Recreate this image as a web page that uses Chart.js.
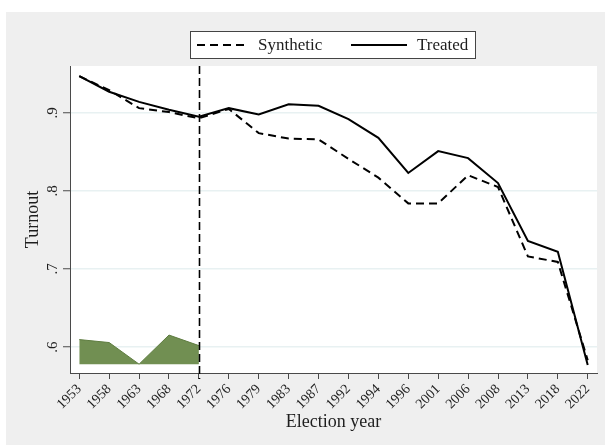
<!DOCTYPE html>
<html>
<head>
<meta charset="utf-8">
<script src="https://cdn.jsdelivr.net/npm/chart.js@4.4.1/dist/chart.umd.min.js"></script>
<style>
  html, body { margin: 0; padding: 0; background: #ffffff; }
  #wrap { width: 605px; height: 446px; }
</style>
</head>
<body>
<div id="wrap"><canvas id="c" width="605" height="446"></canvas></div>
<script>
// Election years shown on the horizontal axis (evenly spaced, one slot each)
const years = ['1953', '1958', '1963', '1968', '1972', '1976', '1979', '1983', '1987',
               '1992', '1994', '1996', '2001', '2006', '2008', '2013', '2018', '2022'];

// Turnout of the treated unit and of its synthetic counterpart
const treated   = [0.947, 0.927, 0.914, 0.904, 0.895, 0.906, 0.898, 0.911, 0.909,
                   0.892, 0.868, 0.823, 0.851, 0.842, 0.810, 0.736, 0.722, 0.577];
const synthetic = [0.947, 0.929, 0.906, 0.901, 0.893, 0.905, 0.874, 0.867, 0.866,
                   0.841, 0.817, 0.784, 0.784, 0.820, 0.805, 0.716, 0.709, 0.583];

// Shaded band in the pre-treatment years
const bandYears = ['1953', '1958', '1963', '1968', '1972'];
const bandTop   = [0.6095, 0.6057, 0.578, 0.6153, 0.6018];
const bandBase  = 0.578;

// Treatment year, marked by the vertical dashed line
const treatYear = '1972';

// Vertical axis ticks
const yTicks = [0.6, 0.7, 0.8, 0.9];
const yTickLabels = ['.6', '.7', '.8', '.9'];

const SERIF = '"Liberation Serif", "Times New Roman", serif';
const TEXT = '#1e1e1e';
const AXIS = '#4a4a4a';

const idx = y => years.indexOf(y);
const toPoints = (labels, vals) => vals.map((v, i) => ({ x: idx(labels[i]), y: v }));

// Page background, plot panel, treatment line, y labels and framed legend
const decor = {
  id: 'decor',
  beforeDraw(chart) {
    const { ctx, chartArea: a } = chart;
    ctx.save();
    ctx.fillStyle = '#ffffff';
    ctx.fillRect(0, 0, chart.width, chart.height);
    ctx.fillStyle = '#efefef';
    ctx.fillRect(6, 12, chart.width - 6, 433);
    ctx.fillStyle = '#ffffff';
    ctx.fillRect(a.left, a.top, a.right - a.left, a.bottom - a.top);
    ctx.restore();
  },
  afterDatasetsDraw(chart) {
    const { ctx, chartArea: a, scales } = chart;
    const x = Math.round(scales.x.getPixelForValue(idx(treatYear))) + 0.5;
    ctx.save();
    ctx.strokeStyle = '#000000';
    ctx.lineWidth = 1.6;
    ctx.setLineDash([8, 4]);
    ctx.beginPath();
    ctx.moveTo(x, a.top);
    ctx.lineTo(x, a.bottom + 6);
    ctx.stroke();
    ctx.restore();
  },
  afterDraw(chart) {
    const { ctx, scales } = chart;
    ctx.save();
    // rotated y tick labels
    ctx.fillStyle = TEXT;
    ctx.font = '15px ' + SERIF;
    ctx.textAlign = 'center';
    ctx.textBaseline = 'middle';
    yTicks.forEach((v, i) => {
      const y = scales.y.getPixelForValue(v);
      ctx.save();
      ctx.translate(53, y);
      ctx.rotate(-Math.PI / 2);
      ctx.fillText(yTickLabels[i], 0, 0);
      ctx.restore();
    });
    // legend box
    const bx = 190.5, by = 31.5, bw = 285, bh = 27;
    ctx.fillStyle = '#ffffff';
    ctx.fillRect(bx, by, bw, bh);
    ctx.strokeStyle = '#444444';
    ctx.lineWidth = 1;
    ctx.strokeRect(bx, by, bw, bh);
    const cy = by + bh / 2;
    const entries = [
      { ds: chart.data.datasets[1], x0: 197, x1: 248, tx: 258 },
      { ds: chart.data.datasets[2], x0: 351, x1: 407, tx: 417 }
    ];
    ctx.font = '17px ' + SERIF;
    ctx.textAlign = 'left';
    ctx.textBaseline = 'middle';
    entries.forEach(e => {
      ctx.strokeStyle = e.ds.borderColor;
      ctx.lineWidth = e.ds.borderWidth;
      ctx.setLineDash(e.ds.borderDash || []);
      ctx.beginPath();
      ctx.moveTo(e.x0, cy);
      ctx.lineTo(e.x1, cy);
      ctx.stroke();
      ctx.setLineDash([]);
      ctx.fillStyle = TEXT;
      ctx.fillText(e.ds.label, e.tx, cy + 1);
    });
    ctx.restore();
  }
};

new Chart(document.getElementById('c'), {
  type: 'line',
  data: {
    datasets: [
      {
        label: 'band',
        data: toPoints(bandYears, bandTop),
        borderColor: '#5f7d41',
        borderWidth: 1,
        backgroundColor: '#718f52',
        fill: { value: bandBase },
        pointRadius: 0,
        tension: 0
      },
      {
        label: 'Synthetic',
        data: toPoints(years, synthetic),
        borderColor: '#000000',
        borderWidth: 2,
        borderDash: [8, 5],
        fill: false,
        pointRadius: 0,
        tension: 0
      },
      {
        label: 'Treated',
        data: toPoints(years, treated),
        borderColor: '#000000',
        borderWidth: 2,
        fill: false,
        pointRadius: 0,
        tension: 0
      }
    ]
  },
  options: {
    responsive: false,
    animation: false,
    devicePixelRatio: 1,
    layout: { padding: { top: 66, right: 8, left: 0, bottom: 0 } },
    plugins: {
      legend: { display: false },
      tooltip: { enabled: false }
    },
    scales: {
      x: {
        type: 'linear',
        min: -0.31,
        max: years.length - 1 + 0.31,
        afterBuildTicks(scale) { scale.ticks = years.map((_, i) => ({ value: i })); },
        afterFit(scale) { scale.height = 73; },
        ticks: {
          autoSkip: false,
          minRotation: 45,
          maxRotation: 45,
          padding: 2,
          color: TEXT,
          font: { family: SERIF, size: 14 },
          callback: v => years[v]
        },
        grid: { drawOnChartArea: false, drawTicks: true, tickLength: 6, tickColor: AXIS, tickWidth: 1 },
        border: { color: AXIS, width: 1 },
        title: {
          display: true,
          text: 'Election year',
          color: TEXT,
          font: { family: SERIF, size: 18 },
          padding: { top: 0, bottom: 13 }
        }
      },
      y: {
        min: 0.5667,
        max: 0.96,
        afterBuildTicks(scale) { scale.ticks = yTicks.map(v => ({ value: v })); },
        afterFit(scale) { scale.width = 70; },
        ticks: { display: false },
        grid: { color: '#e8f1f2', lineWidth: 1.5, drawTicks: true, tickLength: 7, tickColor: AXIS, tickWidth: 1 },
        border: { color: AXIS, width: 1 },
        title: {
          display: true,
          text: 'Turnout',
          color: TEXT,
          font: { family: SERIF, size: 18 },
          padding: { top: 22, bottom: 0 }
        }
      }
    }
  },
  plugins: [decor]
});
</script>
</body>
</html>
